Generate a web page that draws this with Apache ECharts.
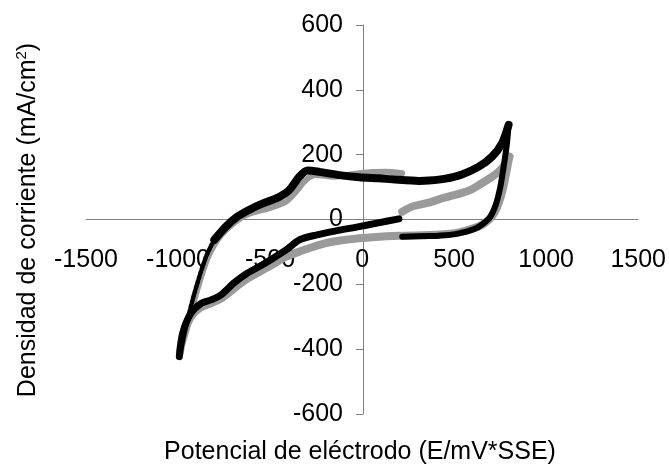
<!DOCTYPE html>
<html><head><meta charset="utf-8">
<script src="https://cdn.jsdelivr.net/npm/echarts@6/dist/echarts.min.js"></script>
<style>html,body{margin:0;padding:0;background:#fff}#c{width:669px;height:468px}</style>
</head><body><div id="c"></div>
<script>
// Axis settings (tick labels every 500 mV / 200 mA/cm2)
const xMin = -1500, xMax = 1500, xStep = 500;
const yMin = -600, yMax = 600, yStep = 200;
const xTitle = 'Potencial de eléctrodo (E/mV*SSE)';
const yTitle = 'Densidad de corriente (mA/cm';

// Black series: [E mV, j mA/cm2]
const blackLower = [[200,2],[74,-12],[-16,-22],[-142,-35],[-251,-48],[-341,-63],[-413,-94],[-485,-120],[-558,-145],[-630,-168],[-695,-195],[-767,-233],[-821,-248],[-875,-259],[-930,-289],[-975,-351],[-993,-423]];
const blackRise = [[-993,-423],[-975,-380],[-957,-331],[-921,-248],[-884,-176],[-848,-115],[-823,-84],[-803,-63]];
const blackAnodic = [[-803,-63],[-740,-22],[-677,9],[-612,30],[-558,45],[-449,70],[-395,91],[-341,132],[-296,151],[-233,147],[-125,137],[-16,130],[92,127],[164,124],[309,119],[363,120],[453,126],[543,139],[634,163],[706,194],[760,235],[796,292]];
const blackReturn = [[796,292],[787,235],[769,163],[751,101],[724,42],[688,2],[616,-28],[507,-45],[417,-50],[363,-51],[218,-53]];

// Gray series
const grayAnodicRight = [[218,24],[273,40],[363,52],[417,62],[453,68],[543,82],[598,94],[634,106],[706,132],[760,158],[800,194]];
const grayReturn = [[800,194],[785,150],[767,100],[745,55],[718,20],[690,0],[640,-20],[560,-35],[507,-42],[363,-48],[200,-50],[-16,-58],[-197,-73],[-341,-99],[-413,-115],[-521,-150],[-630,-185],[-700,-215],[-770,-245],[-829,-260],[-880,-272],[-930,-300],[-970,-350],[-990,-410]];
const grayAnodicLeft = [[-990,-410],[-948,-330],[-912,-250],[-876,-180],[-840,-120],[-805,-80],[-765,-48],[-720,-22],[-660,4],[-612,18],[-504,35],[-413,55],[-359,86],[-305,122],[-251,137],[-161,132],[-16,143],[128,147],[218,143]];

const FONT = '"Liberation Sans", Arial, sans-serif';
const AXIS_COLOR = '#808080';
const GRAY = '#9a9a9a';
const BLACK = '#000000';

function lineSeries(data, color, width, dash) {
  return {
    type: 'line', data: data, showSymbol: false, symbol: 'none', smooth: 0.25,
    lineStyle: { color: color, width: width, type: dash || 'solid', cap: 'round', join: 'round' },
    animation: false, silent: true
  };
}

const GRID = { left: 86, right: 29, top: 25, bottom: 54 };
const W = 669, H = 468;
const gridW = W - GRID.left - GRID.right, gridH = H - GRID.top - GRID.bottom;
// axes cross at zero: shift axes inward from the grid edges
const yAxisOffset = -gridW * (0 - xMin) / (xMax - xMin);
const xAxisOffset = -gridH * (0 - yMin) / (yMax - yMin);

const chart = echarts.init(document.getElementById('c'), null, { renderer: 'canvas' });
chart.setOption({
  backgroundColor: '#ffffff',
  animation: false,
  grid: Object.assign({ containLabel: false }, GRID),
  xAxis: {
    type: 'value', min: xMin, max: xMax, interval: xStep, position: 'bottom', offset: xAxisOffset,
    axisLine: { onZero: false, lineStyle: { color: AXIS_COLOR, width: 1 } },
    axisTick: { show: false },
    splitLine: { show: false },
    axisLabel: { color: '#000', fontSize: 25, fontFamily: FONT, margin: 28, formatter: v => String(v) }
  },
  yAxis: {
    type: 'value', min: yMin, max: yMax, interval: yStep, position: 'left', offset: yAxisOffset,
    axisLine: { onZero: false, lineStyle: { color: AXIS_COLOR, width: 1 } },
    axisTick: { show: true, inside: false, length: 7, lineStyle: { color: AXIS_COLOR } },
    splitLine: { show: false },
    axisLabel: { color: '#000', fontSize: 25, fontFamily: FONT, margin: 20, formatter: v => String(v) }
  },
  graphic: [
    { type: 'text', x: 360, y: 452, silent: true,
      style: { text: xTitle, font: '25px ' + FONT, fill: '#000', align: 'center', verticalAlign: 'middle' } },
    { type: 'text', x: 28, y: 220, rotation: Math.PI / 2, silent: true,
      style: { text: '{a|' + yTitle + '}{s|2}{a|)}', fill: '#000', align: 'center', verticalAlign: 'middle',
        rich: { a: { fontSize: 25, fontFamily: FONT, fill: '#000', lineHeight: 28 },
                s: { fontSize: 15, fontFamily: FONT, fill: '#000', verticalAlign: 'top', lineHeight: 28 } } } }
  ],
  series: [
    lineSeries(grayAnodicRight, GRAY, 8),
    lineSeries(grayReturn, GRAY, 8),
    lineSeries(grayAnodicLeft, GRAY, 6),
    lineSeries(blackLower, BLACK, 7),
    lineSeries(blackRise, BLACK, 4.5, [3, 2]),
    lineSeries(blackAnodic, BLACK, 8),
    lineSeries(blackReturn, BLACK, 6)
  ]
});
</script></body></html>
